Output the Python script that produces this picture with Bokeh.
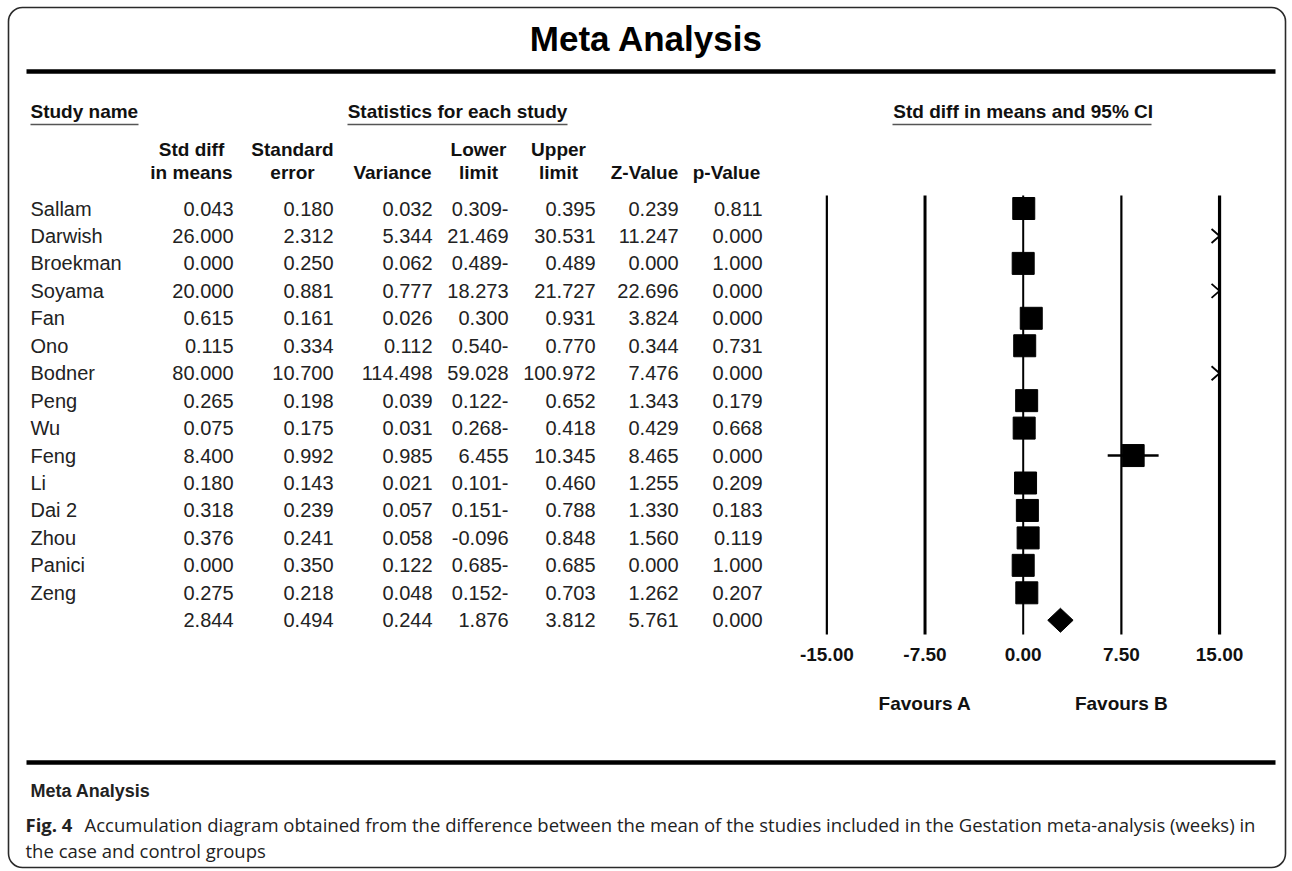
from bokeh.plotting import figure
from bokeh.models import Range1d, BoxAnnotation
from bokeh.core.properties import value
from bokeh.embed import file_html
from bokeh.resources import INLINE

# ---------------- data ----------------
studies = ["Sallam", "Darwish", "Broekman", "Soyama", "Fan", "Ono", "Bodner", "Peng",
           "Wu", "Feng", "Li", "Dai 2", "Zhou", "Panici", "Zeng"]
std_diff = [0.043, 26.000, 0.000, 20.000, 0.615, 0.115, 80.000, 0.265,
            0.075, 8.400, 0.180, 0.318, 0.376, 0.000, 0.275]
std_err = [0.180, 2.312, 0.250, 0.881, 0.161, 0.334, 10.700, 0.198,
           0.175, 0.992, 0.143, 0.239, 0.241, 0.350, 0.218]
variance = [0.032, 5.344, 0.062, 0.777, 0.026, 0.112, 114.498, 0.039,
            0.031, 0.985, 0.021, 0.057, 0.058, 0.122, 0.048]
lower = [-0.309, 21.469, -0.489, 18.273, 0.300, -0.540, 59.028, -0.122,
         -0.268, 6.455, -0.101, -0.151, -0.096, -0.685, -0.152]
lower_labels = ["0.309-", "21.469", "0.489-", "18.273", "0.300", "0.540-", "59.028", "0.122-",
                "0.268-", "6.455", "0.101-", "0.151-", "-0.096", "0.685-", "0.152-"]
upper = [0.395, 30.531, 0.489, 21.727, 0.931, 0.770, 100.972, 0.652,
         0.418, 10.345, 0.460, 0.788, 0.848, 0.685, 0.703]
z_value = [0.239, 11.247, 0.000, 22.696, 3.824, 0.344, 7.476, 1.343,
           0.429, 8.465, 1.255, 1.330, 1.560, 0.000, 1.262]
p_value = [0.811, 0.000, 1.000, 0.000, 0.000, 0.731, 0.000, 0.179,
           0.668, 0.000, 0.209, 0.183, 0.119, 1.000, 0.207]

summary = {"std_diff": 2.844, "std_err": 0.494, "variance": 0.244, "lower": 1.876,
           "upper": 3.812, "z": 5.761, "p": 0.000}

ticks = [-15.0, -7.5, 0.0, 7.5, 15.0]
tick_labels = ["-15.00", "-7.50", "0.00", "7.50", "15.00"]
tick_widths = [2.2, 3.0, 2.0, 2.2, 3.2]
x_lo, x_hi = -15.0, 15.0

title = "Meta Analysis"
caption_bold = "Fig. 4"
caption_1 = ("Accumulation diagram obtained from the difference between the mean of the "
             "studies included in the Gestation meta-analysis (weeks) in")
caption_2 = "the case and control groups"

# ---------------- layout helpers (page pixels -> data) ----------------
W, H = 1290, 869
ORIG = 0                 # page px of the canvas origin
X0, SX = 1022.7, 13.09   # page px of effect 0, px per unit
Y0, SY = 208.0, 27.45    # page px of first row, px per row


def X(px):
    return (px - X0) / SX


def Y(py):
    return (py - Y0) / SY


p = figure(width=W, height=H,
           x_range=Range1d(X(ORIG), X(ORIG + W)),
           y_range=Range1d(Y(ORIG + H), Y(ORIG)),
           output_backend="svg", toolbar_location=None,
           min_border=0, x_axis_type=None, y_axis_type=None)
p.outline_line_color = None
p.background_fill_color = "white"
p.border_fill_color = "white"
p.grid.visible = False

FONT = value("Liberation Sans")
CAPF = value("Open Sans")
n = len(studies)
rows = list(range(n))
srow = n

# border
p.add_layout(BoxAnnotation(left=X(8), right=X(1285), top=Y(7), bottom=Y(867),
                           fill_color=None, fill_alpha=0, line_color="#2a2a2a",
                           line_alpha=1.0, line_width=1.6, border_radius=14))

# title & rules
p.text(x=[X(646)], y=[Y(38)], text=[title], text_font=FONT, text_font_style="bold",
       text_font_size="35px", text_align="center", text_baseline="middle", color="black")
p.segment(x0=[X(26), X(26)], x1=[X(1275), X(1275)], y0=[Y(71), Y(762)], y1=[Y(71), Y(762)],
          line_width=4.5, color="black")

# section headers
hy = Y(111)
p.text(x=[X(30)], y=[hy], text=["Study name"], text_font=FONT, text_font_style="bold",
       text_font_size="19px", text_align="left", text_baseline="middle", color="#111111")
p.text(x=[X(457)], y=[hy], text=["Statistics for each study"], text_font=FONT,
       text_font_style="bold", text_font_size="19px", text_align="center",
       text_baseline="middle", color="#111111")
p.text(x=[0.0], y=[hy], text=["Std diff in means and 95% CI"], text_font=FONT,
       text_font_style="bold", text_font_size="19px", text_align="center",
       text_baseline="middle", color="#111111")
uy = Y(124)
p.segment(x0=[X(30), X(347), X(892)], x1=[X(138), X(567), X(1151)],
          y0=[uy] * 3, y1=[uy] * 3, line_width=1.6, color="#555555")

# column headers
col_right = [233, 333, 432, 508, 595, 678, 762]
hdr_center = [191, 292, 392, 478, 558, 644, 726]
hdr1 = ["Std diff", "Standard", "", "Lower", "Upper", "", ""]
hdr2 = ["in means", "error", "Variance", "limit", "limit", "Z-Value", "p-Value"]
p.text(x=[X(c) for c in hdr_center], y=[Y(149)] * 7, text=hdr1, text_font=FONT,
       text_font_style="bold", text_font_size="19px", text_align="center",
       text_baseline="middle", color="#111111")
p.text(x=[X(c) for c in hdr_center], y=[Y(172)] * 7, text=hdr2, text_font=FONT,
       text_font_style="bold", text_font_size="19px", text_align="center",
       text_baseline="middle", color="#111111")

# table body
p.text(x=[X(30)] * n, y=rows, text=studies, text_font=FONT, text_font_size="20px",
       text_align="left", text_baseline="middle", color="#222222")
cols = [
    [f"{v:.3f}" for v in std_diff] + [f"{summary['std_diff']:.3f}"],
    [f"{v:.3f}" for v in std_err] + [f"{summary['std_err']:.3f}"],
    [f"{v:.3f}" for v in variance] + [f"{summary['variance']:.3f}"],
    lower_labels + [f"{summary['lower']:.3f}"],
    [f"{v:.3f}" for v in upper] + [f"{summary['upper']:.3f}"],
    [f"{v:.3f}" for v in z_value] + [f"{summary['z']:.3f}"],
    [f"{v:.3f}" for v in p_value] + [f"{summary['p']:.3f}"],
]
for cr, txt in zip(col_right, cols):
    p.text(x=[X(cr)] * (n + 1), y=rows + [srow], text=txt, text_font=FONT,
           text_font_size="20px", text_align="right", text_baseline="middle",
           color="#222222")

# forest: reference lines
p.segment(x0=ticks, x1=ticks, y0=[Y(195)] * 5, y1=[Y(634)] * 5,
          line_width=tick_widths, color="black")
p.text(x=ticks, y=[Y(654)] * 5, text=tick_labels, text_font=FONT, text_font_style="bold",
       text_font_size="19px", text_align="center", text_baseline="middle", color="#111111")
p.text(x=[-7.5, 7.5], y=[Y(703)] * 2, text=["Favours A", "Favours B"], text_font=FONT,
       text_font_style="bold", text_font_size="19px", text_align="center",
       text_baseline="middle", color="#111111")

# CIs (clipped) and squares for studies inside the range
ci_x0, ci_x1, ci_y, sq_x, sq_y, ar_y = [], [], [], [], [], []
for i in range(n):
    if lower[i] < x_hi:
        ci_x0.append(max(lower[i], x_lo))
        ci_x1.append(min(upper[i], x_hi))
        ci_y.append(i)
    if x_lo <= std_diff[i] <= x_hi:
        sq_x.append(std_diff[i])
        sq_y.append(i)
    if upper[i] > x_hi:
        ar_y.append(i)
p.segment(x0=ci_x0, x1=ci_x1, y0=ci_y, y1=ci_y, line_width=2.5, color="black")
p.scatter(x=sq_x, y=sq_y, marker="square", size=22, color="black")

# arrows for intervals beyond the axis
aw, ah = 8 / SX, 7 / SY
p.multi_line(xs=[[x_hi - aw, x_hi, x_hi - aw] for _ in ar_y],
             ys=[[r - ah, r, r + ah] for r in ar_y], line_width=1.8, color="black")

# summary diamond
dh = 12 / SY
p.patch(x=[summary["lower"], summary["std_diff"], summary["upper"], summary["std_diff"]],
        y=[srow, srow - dh, srow, srow + dh], color="black")

# footer
p.text(x=[X(30)], y=[Y(790)], text=[title], text_font=FONT, text_font_style="bold",
       text_font_size="18px", text_align="left", text_baseline="middle", color="#222222")
p.text(x=[X(25)], y=[Y(824)], text=[caption_bold], text_font=CAPF, text_font_style="bold",
       text_font_size="18.5px", text_align="left", text_baseline="middle", color="#222222")
p.text(x=[X(84)], y=[Y(824)], text=[caption_1], text_font=CAPF,
       text_font_size="18.5px", text_align="left", text_baseline="middle", color="#222222")
p.text(x=[X(25)], y=[Y(850)], text=[caption_2], text_font=CAPF,
       text_font_size="18.5px", text_align="left", text_baseline="middle", color="#222222")

open("out.html", "w").write(file_html(p, INLINE))
